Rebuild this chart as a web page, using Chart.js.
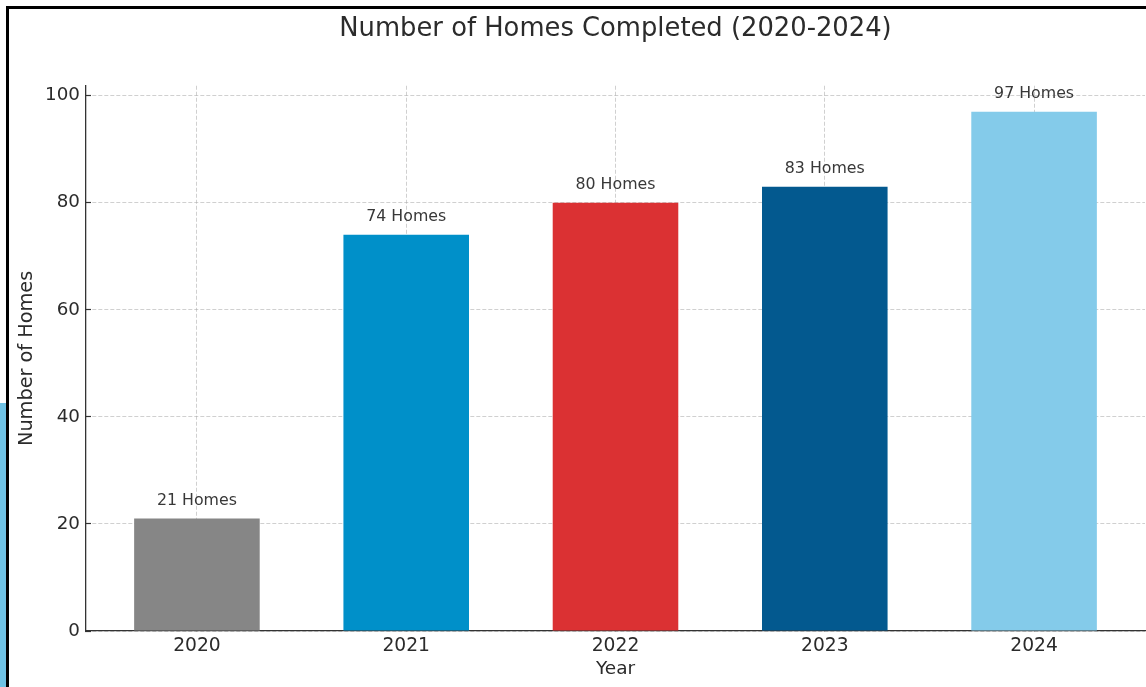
<!DOCTYPE html>
<html>
<head>
<meta charset="utf-8">
<script src="https://cdn.jsdelivr.net/npm/chart.js@4"></script>
<style>
  html, body { margin: 0; padding: 0; background: #ffffff; }
  body { width: 1146px; height: 687px; position: relative; overflow: hidden; }
  #wrap { position: absolute; left: 0; top: 0; width: 1146px; height: 687px; }
  .frame-top { position: absolute; left: 6px; top: 6px; width: 1140px; height: 3px; background: #000; }
  .frame-left { position: absolute; left: 6px; top: 6px; width: 3px; height: 681px; background: #000; }
  .strip { position: absolute; left: 0; top: 403px; width: 6px; height: 284px; background: #6fc2e4; }
</style>
</head>
<body>
<div id="wrap"><canvas id="c" width="1146" height="687"></canvas></div>
<div class="frame-top"></div>
<div class="frame-left"></div>
<div class="strip"></div>
<script>
const years = ['2020', '2021', '2022', '2023', '2024'];
const homesCompleted = [21, 74, 80, 83, 97];
const barColors = ['#868686', '#0090c9', '#db3133', '#03598f', '#84cbea'];
const yTickValues = [0, 20, 40, 60, 80, 100];
const yMax = 101.85;
const xMin = -0.53;
const xMax = 4.53;

const FONT = "'DejaVu Sans', 'Liberation Sans', sans-serif";
const textColor = '#2b2b2b';
const gridColor = 'rgba(170,170,170,0.55)';

const valueLabels = {
  id: 'valueLabels',
  afterDatasetsDraw(chart) {
    const ctx = chart.ctx;
    const xs = chart.scales.x, ys = chart.scales.y;
    ctx.save();
    ctx.font = '15.8px ' + FONT;
    ctx.fillStyle = '#383838';
    ctx.textAlign = 'center';
    ctx.textBaseline = 'alphabetic';
    homesCompleted.forEach((v, i) => {
      ctx.fillText(v + ' Homes', xs.getPixelForValue(i), ys.getPixelForValue(v) - 13.5);
    });
    ctx.restore();
  }
};

new Chart(document.getElementById('c'), {
  type: 'bar',
  data: {
    datasets: [{
      data: homesCompleted.map((v, i) => ({ x: i, y: v })),
      backgroundColor: barColors,
      borderWidth: 0,
      categoryPercentage: 0.6,
      barPercentage: 1.0
    }]
  },
  options: {
    responsive: false,
    animation: false,
    devicePixelRatio: 1,
    layout: { padding: { left: 0, right: 1, top: 0, bottom: 0 } },
    plugins: {
      legend: { display: false },
      tooltip: { enabled: false },
      title: {
        display: true,
        text: 'Number of Homes Completed (2020-2024)',
        fullSize: false,
        color: textColor,
        font: { family: FONT, size: 25.8, weight: 'normal' },
        padding: { top: 13.4, bottom: 41.4 }
      }
    },
    scales: {
      x: {
        type: 'linear',
        min: xMin,
        max: xMax,
        offset: false,
        z: 1,
        afterBuildTicks(scale) {
          scale.ticks = years.map((_, i) => ({ value: i }));
        },
        afterFit(scale) { scale.height = 56; },
        ticks: {
          callback: (v) => years[v],
          color: textColor,
          font: { family: FONT, size: 18.7 },
          padding: 8.5,
          maxRotation: 0,
          autoSkip: false
        },
        grid: {
          offset: false,
          color: gridColor,
          lineWidth: 1,
          drawTicks: true,
          tickLength: -5,
          tickColor: '#333333',
          tickWidth: 1.2,
          tickBorderDash: []
        },
        border: { display: true, color: '#333333', width: 1.3, dash: [4, 2] },
        title: {
          display: true,
          text: 'Year',
          color: textColor,
          font: { family: FONT, size: 18.5 },
          padding: { top: 0, bottom: 6.5 }
        }
      },
      y: {
        type: 'linear',
        min: 0,
        max: yMax,
        z: 1,
        afterBuildTicks(scale) {
          scale.ticks = yTickValues.map(v => ({ value: v }));
        },
        afterFit(scale) { scale.width = 86; },
        ticks: {
          color: textColor,
          font: { family: FONT, size: 18.3 },
          padding: 11
        },
        grid: {
          color: gridColor,
          lineWidth: 1,
          drawTicks: true,
          tickLength: -5,
          tickColor: '#333333',
          tickWidth: 1.2,
          tickBorderDash: []
        },
        border: { display: true, color: '#333333', width: 1.3, dash: [4, 2] },
        title: {
          display: true,
          text: 'Number of Homes',
          color: textColor,
          font: { family: FONT, size: 19.3 },
          padding: { top: 15.5, bottom: 0 }
        }
      }
    }
  },
  plugins: [valueLabels]
});
</script>
</body>
</html>
